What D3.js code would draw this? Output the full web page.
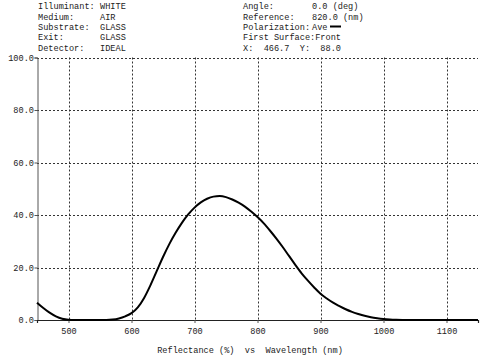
<!DOCTYPE html>
<html>
<head>
<meta charset="utf-8">
<script src="https://cdn.jsdelivr.net/npm/d3@7"></script>
<style>
  html, body { margin: 0; padding: 0; background: #fff; }
  svg { display: block; }
  text { font-family: "Liberation Mono", "DejaVu Sans Mono", monospace; font-size: 8.6px; fill: #222; white-space: pre; }
</style>
</head>
<body>
<svg id="chart" width="500" height="360"></svg>
<script>
// ---- data ----
const wavelengths = [450,460,470,480,490,500,510,520,530,540,550,560,570,580,590,600,610,620,630,640,650,660,670,680,690,700,710,720,730,740,750,760,770,780,790,800,810,820,830,840,850,860,870,880,890,900,910,920,930,940,950,960,970,980,990,1000,1010,1020,1030,1040,1050,1060,1070,1080,1090,1100,1110,1120,1130,1140,1150];
const reflectance = [6.6,4.6,2.8,1.4,0.5,0.1,0,0,0,0,0,0,0.15,0.6,1.4,2.6,4.8,8.4,13.2,18.6,24.0,28.9,33.2,37.0,40.2,42.8,44.8,46.2,47.0,47.2,46.8,45.9,44.7,43.2,41.3,39.2,36.8,34.0,31.0,27.8,24.4,21.0,17.8,15.0,12.4,10.0,8.2,6.6,5.3,4.1,3.1,2.3,1.6,1.05,0.65,0.35,0.17,0.07,0.02,0,0,0,0,0,0,0,0,0,0,0,0];
const xTicks = [500,600,700,800,900,1000,1100];
const yTicks = [0,20,40,60,80,100];
const headerLeftLabels = ["Illuminant:", "Medium:", "Substrate:", "Exit:", "Detector:"];
const headerLeftValues = ["WHITE", "AIR", "GLASS", "GLASS", "IDEAL"];
const headerRightLabels = ["Angle:", "Reference:", "Polarization:", "First Surface:Front", "X:  466.7  Y:  88.0"];
const headerRightValues = ["0.0 (deg)", "820.0 (nm)", "Ave", "", ""];
const axisTitle = "Reflectance (%)  vs  Wavelength (nm)";

// ---- layout ----
const svg = d3.select("#chart");
const pLeft = 37, pRight = 478, pTop = 57.5, pBottom = 320;
const x = d3.scaleLinear().domain([450, 1150]).range([pLeft, pRight]);
const y = d3.scaleLinear().domain([0, 100]).range([pBottom, pTop]);

// grid lines
const grid = svg.append("g").attr("stroke", "#333").attr("stroke-width", 1).attr("stroke-dasharray", "2,2");
grid.selectAll("line.v").data(xTicks).join("line").attr("class", "v")
  .attr("x1", d => Math.round(x(d)) + 0.5).attr("x2", d => Math.round(x(d)) + 0.5)
  .attr("y1", pTop).attr("y2", pBottom);
grid.selectAll("line.h").data(yTicks.filter(d => d > 0)).join("line").attr("class", "h")
  .attr("x1", pLeft).attr("x2", pRight)
  .attr("y1", d => Math.round(y(d)) + 0.5).attr("y2", d => Math.round(y(d)) + 0.5);

// left axis
const yAxis = d3.axisLeft(y).tickValues(yTicks).tickSize(3).tickFormat(d3.format(".1f"));
const gy = svg.append("g").attr("transform", `translate(${pLeft + 0.5},0)`).call(yAxis);
gy.select(".domain").attr("stroke", "#555");
gy.selectAll(".tick line").attr("stroke", "#555");
gy.selectAll(".tick text").attr("x", -3.5).attr("dy", "0.32em")
  .style("font-family", '"Liberation Mono", monospace').style("font-size", "8.6px").attr("fill", "#222");

// bottom axis
const xAxis = d3.axisBottom(x).tickValues(xTicks).tickSize(3).tickFormat(d3.format("d"));
const gx = svg.append("g").attr("transform", `translate(0,${pBottom})`).call(xAxis);
gx.select(".domain").attr("stroke", "#222").attr("stroke-width", 1.2);
gx.selectAll(".tick line").attr("stroke", "#555");
gx.selectAll(".tick text").attr("y", 8)
  .style("font-family", '"Liberation Mono", monospace').style("font-size", "8.6px").attr("fill", "#222");

// curve
const line = d3.line()
  .x((d, i) => x(wavelengths[i]))
  .y(d => y(d))
  .curve(d3.curveMonotoneX);
svg.append("path").datum(reflectance)
  .attr("d", line)
  .attr("fill", "none").attr("stroke", "#000").attr("stroke-width", 2);

// header text
const rowY = [9, 19.5, 30, 40.3, 50.6];
const hdr = svg.append("g");
hdr.selectAll("text.ll").data(headerLeftLabels).join("text").attr("class", "ll")
  .attr("x", 38).attr("y", (d, i) => rowY[i]).text(d => d);
hdr.selectAll("text.lv").data(headerLeftValues).join("text").attr("class", "lv")
  .attr("x", 100).attr("y", (d, i) => rowY[i]).text(d => d);
hdr.selectAll("text.rl").data(headerRightLabels).join("text").attr("class", "rl")
  .attr("x", 243).attr("y", (d, i) => rowY[i]).text(d => d);
hdr.selectAll("text.rv").data(headerRightValues).join("text").attr("class", "rv")
  .attr("x", 312).attr("y", (d, i) => rowY[i]).text(d => d);
// legend line after "Ave"
svg.append("line").attr("x1", 330).attr("x2", 341).attr("y1", rowY[2] - 3.5).attr("y2", rowY[2] - 3.5)
  .attr("stroke", "#000").attr("stroke-width", 2);

// axis title
svg.append("text").attr("x", 250).attr("y", 353).attr("text-anchor", "middle").text(axisTitle);
</script>
</body>
</html>
